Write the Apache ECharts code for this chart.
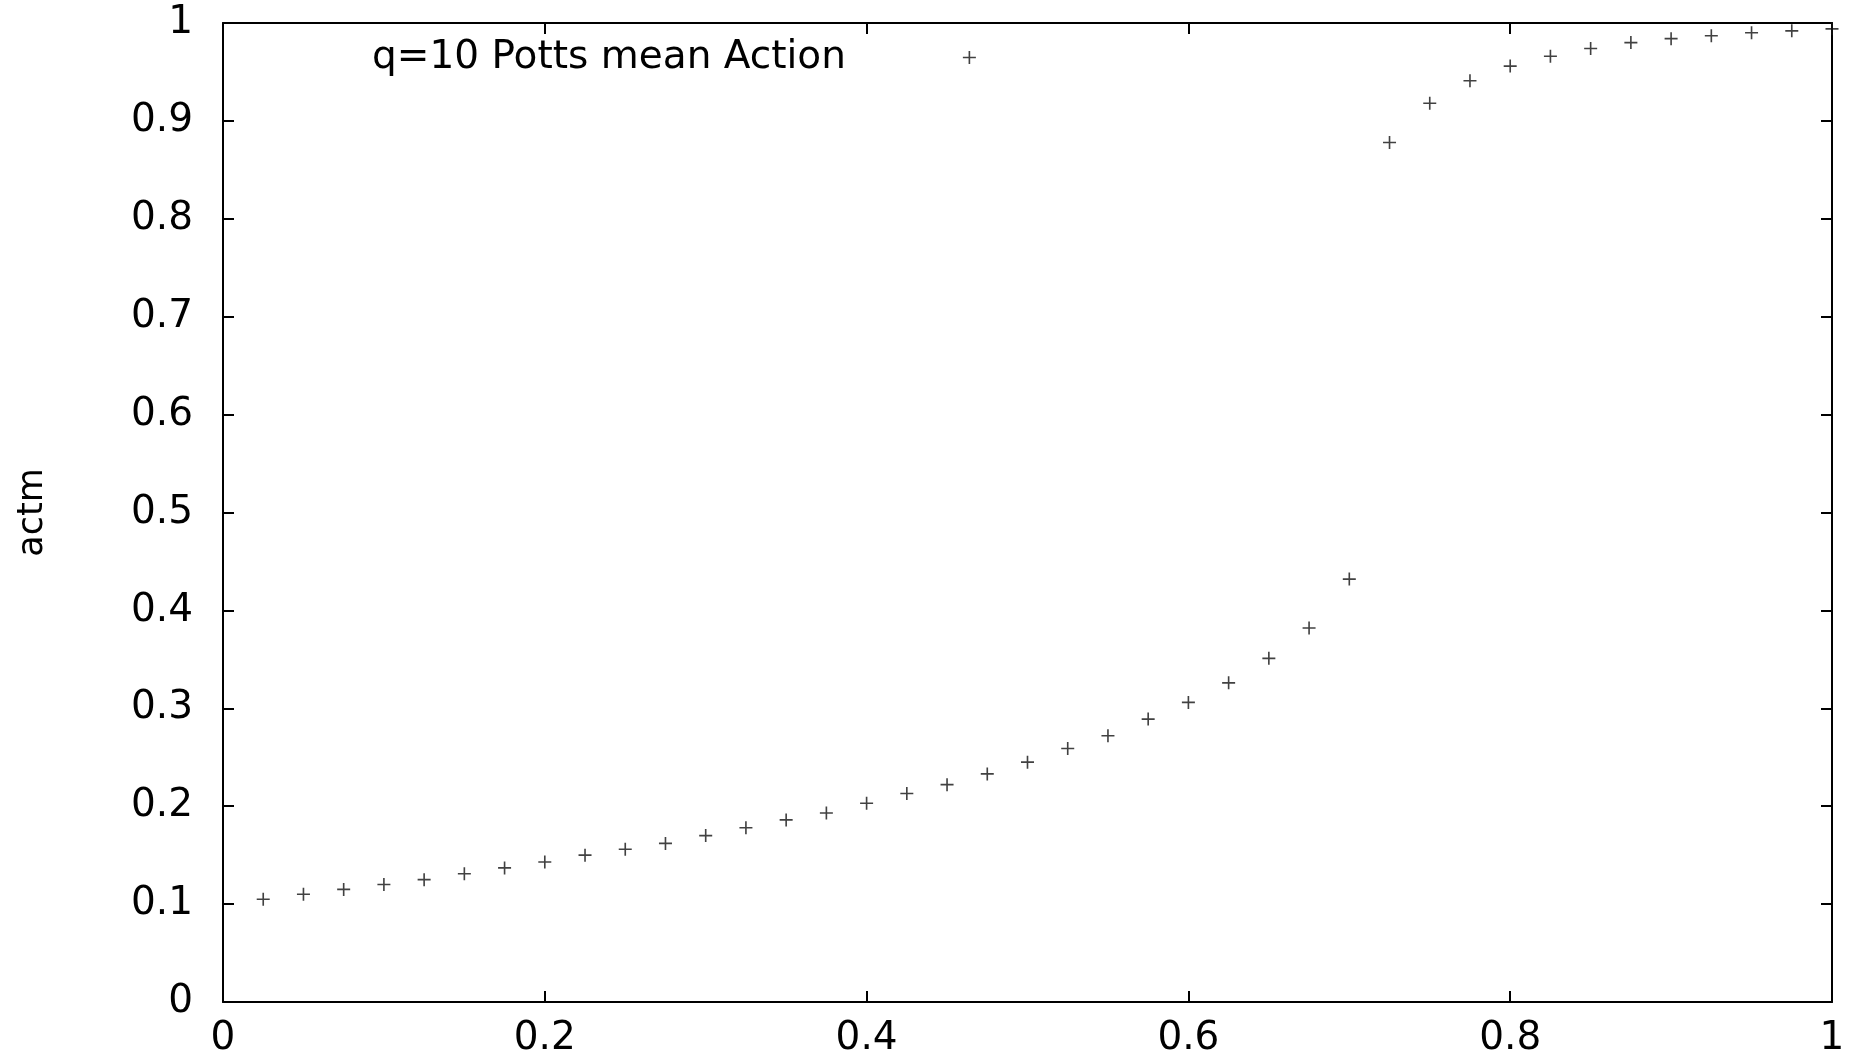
<!DOCTYPE html>
<html>
<head>
<meta charset="utf-8">
<script src="https://cdn.jsdelivr.net/npm/echarts@6/dist/echarts.min.js"></script>
<style>
html,body{margin:0;padding:0;background:#fff;}
#chart{width:1857px;height:1063px;}
</style>
</head>
<body>
<div id="chart"></div>
<script>
var seriesName = 'q=10 Potts mean Action';
var xValues = [0.025,0.05,0.075,0.1,0.125,0.15,0.175,0.2,0.225,0.25,0.275,0.3,0.325,0.35,0.375,0.4,0.425,0.45,0.475,0.5,0.525,0.55,0.575,0.6,0.625,0.65,0.675,0.7,0.725,0.75,0.775,0.8,0.825,0.85,0.875,0.9,0.925,0.95,0.975,1.0];
var yValues = [0.105,0.110,0.115,0.120,0.125,0.131,0.137,0.143,0.150,0.156,0.162,0.170,0.178,0.186,0.193,0.203,0.213,0.222,0.233,0.245,0.259,0.272,0.289,0.306,0.326,0.351,0.382,0.432,0.878,0.918,0.941,0.956,0.966,0.974,0.980,0.984,0.987,0.990,0.992,0.994];
var xTickLabels = ['0','0.2','0.4','0.6','0.8','1'];
var yTickLabels = ['0','0.1','0.2','0.3','0.4','0.5','0.6','0.7','0.8','0.9','1'];
var yAxisName = 'actm';

var plus = 'path://M0,5.25h12v1.5h-12z M5.25,0h1.5v12h-1.5z';
var FONT = 'DejaVu Sans';
var data = xValues.map(function(x,i){return [x, yValues[i]];});

var chart = echarts.init(document.getElementById('chart'), null, {renderer:'canvas'});
var axisLine = {show:true, onZero:false, lineStyle:{color:'#000', width:2}};
var tickIn = {show:true, inside:true, length:11, lineStyle:{color:'#000', width:2}};
function fmt(list, step){ return function(v){ var i = Math.round(v/step); return list[i] !== undefined ? list[i] : ''; }; }

chart.setOption({
  animation:false,
  backgroundColor:'#fff',
  grid:{left:223, right:25, top:23, bottom:61, containLabel:false},
  legend:{
    show:true, left:367, top:33, align:'right', itemWidth:13, itemHeight:13,
    icon: plus,
    textStyle:{fontFamily:FONT, fontSize:39, color:'#000', padding:[0,112,0,0]},
    itemStyle:{color:'#111'},
    data:[seriesName]
  },
  xAxis:[{
    type:'value', min:0, max:1, interval:0.2, position:'bottom',
    axisLine:axisLine, axisTick:tickIn, splitLine:{show:false},
    axisLabel:{show:true, margin:17, fontFamily:FONT, fontSize:39, color:'#000', formatter:fmt(xTickLabels,0.2)}
  },{
    type:'value', min:0, max:1, interval:0.2, position:'top',
    axisLine:axisLine, axisTick:tickIn, splitLine:{show:false}, axisLabel:{show:false}
  }],
  yAxis:[{
    type:'value', min:0, max:1, interval:0.1, position:'left',
    name:yAxisName, nameLocation:'middle', nameRotate:90, nameGap:173,
    nameTextStyle:{fontFamily:FONT, fontSize:35, color:'#000'},
    axisLine:axisLine, axisTick:tickIn, splitLine:{show:false},
    axisLabel:{show:true, margin:30, fontFamily:FONT, fontSize:39, color:'#000', formatter:fmt(yTickLabels,0.1)}
  },{
    type:'value', min:0, max:1, interval:0.1, position:'right',
    axisLine:axisLine, axisTick:tickIn, splitLine:{show:false}, axisLabel:{show:false}
  }],
  series:[{
    name:seriesName, type:'scatter', xAxisIndex:0, yAxisIndex:0,
    symbol:plus, symbolSize:13,
    itemStyle:{color:'#111'},
    data:data
  }]
});
</script>
</body>
</html>
